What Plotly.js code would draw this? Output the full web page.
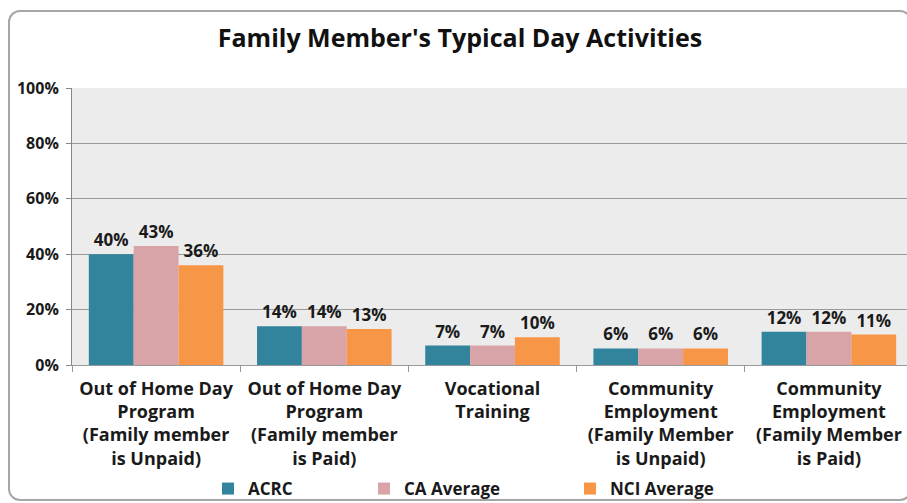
<!DOCTYPE html>
<html>
<head>
<meta charset="utf-8">
<script src="https://cdn.plot.ly/plotly-3.0.1.min.js"></script>
<style>
  html, body { margin: 0; padding: 0; width: 907px; height: 503px; overflow: hidden; background: #fff; }
  #chart { position: absolute; left: 0; top: 0; width: 914px; height: 503px; }
  #frame { position: absolute; left: 8px; top: 10px; width: 904px; height: 491px;
           border: 2px solid #a6a6a6; border-radius: 12px; pointer-events: none; box-sizing: border-box; }
</style>
</head>
<body>
<div id="frame"></div>
<div id="chart"></div>
<script>
const categories = [
  "Out of Home Day<br>Program<br>(Family member<br>is Unpaid)",
  "Out of Home Day<br>Program<br>(Family member<br>is Paid)",
  "Vocational<br>Training",
  "Community<br>Employment<br>(Family Member<br>is Unpaid)",
  "Community<br>Employment<br>(Family Member<br>is Paid)"
];
const seriesNames = ["ACRC", "CA Average", "NCI Average"];
const acrc = [40, 14, 7, 6, 12];
const caAverage = [43, 14, 7, 6, 12];
const nciAverage = [36, 13, 10, 6, 11];
const colors = ["#31849B", "#D8A4A7", "#F79646"];
const tickVals = [0, 20, 40, 60, 80, 100];
const tickText = ["0%", "20%", "40%", "60%", "80%", "100%"];

const fontFam = "'Open Sans', 'DejaVu Sans', sans-serif";
const allSeries = [acrc, caAverage, nciAverage];
const legendNames = ["legend", "legend2", "legend3"];
const traces = allSeries.map((vals, i) => ({
  type: "bar",
  name: seriesNames[i],
  x: categories,
  y: vals,
  marker: { color: colors[i] },
  text: vals.map(v => v + "%"),
  textposition: "outside",
  cliponaxis: false,
  textfont: { family: fontFam, size: 17, color: "#1a1a1a", weight: "bold" },
  hoverinfo: "none",
  legend: legendNames[i]
}));

const W = 914, H = 503;
const plotL = 72, plotW = 841;
const legendX = [222, 378, 584];
const legendBase = {
  orientation: "h", xref: "container", yref: "container",
  yanchor: "middle", y: (H - 489) / H, xanchor: "left",
  font: { family: fontFam, size: 17, color: "#1a1a1a", weight: "bold" },
  bgcolor: "rgba(0,0,0,0)", itemwidth: 30, tracegroupgap: 0
};
const layout = {
  width: W, height: H,
  margin: { l: plotL, r: 1, t: 88, b: 138, autoexpand: false },
  paper_bgcolor: "rgba(0,0,0,0)",
  plot_bgcolor: "#ececec",
  title: { text: "Family Member's Typical Day Activities", x: (460 - plotL) / plotW, xref: "paper", xanchor: "center",
           y: 0.924, yanchor: "middle",
           font: { family: fontFam, size: 25, color: "#111", weight: "bold" } },
  barmode: "group",
  bargap: 0.2,
  bargroupgap: 0,
  xaxis: {
    type: "category",
    tickson: "boundaries",
    ticks: "outside", ticklen: 6, tickcolor: "#999",
    ticklabelstandoff: 7,
    showline: true, linecolor: "#999", linewidth: 1,
    tickfont: { family: fontFam, size: 18, color: "#1a1a1a", weight: "bold" },
    fixedrange: true
  },
  yaxis: {
    range: [0, 100],
    tickvals: tickVals, ticktext: tickText,
    ticks: "outside", ticklen: 5, tickcolor: "#888",
    ticklabelstandoff: 4,
    showline: true, linecolor: "#888", linewidth: 1,
    showgrid: true, gridcolor: "#9a9a9a", gridwidth: 1,
    zeroline: false,
    tickfont: { family: fontFam, size: 16, color: "#1a1a1a", weight: "bold" },
    fixedrange: true
  },
  legend: Object.assign({}, legendBase, { x: (legendX[0] - 14) / W }),
  legend2: Object.assign({}, legendBase, { x: (legendX[1] - 14) / W }),
  legend3: Object.assign({}, legendBase, { x: (legendX[2] - 14) / W }),
  showlegend: true
};
Plotly.newPlot("chart", traces, layout, { displayModeBar: false, staticPlot: true });
</script>
</body>
</html>
